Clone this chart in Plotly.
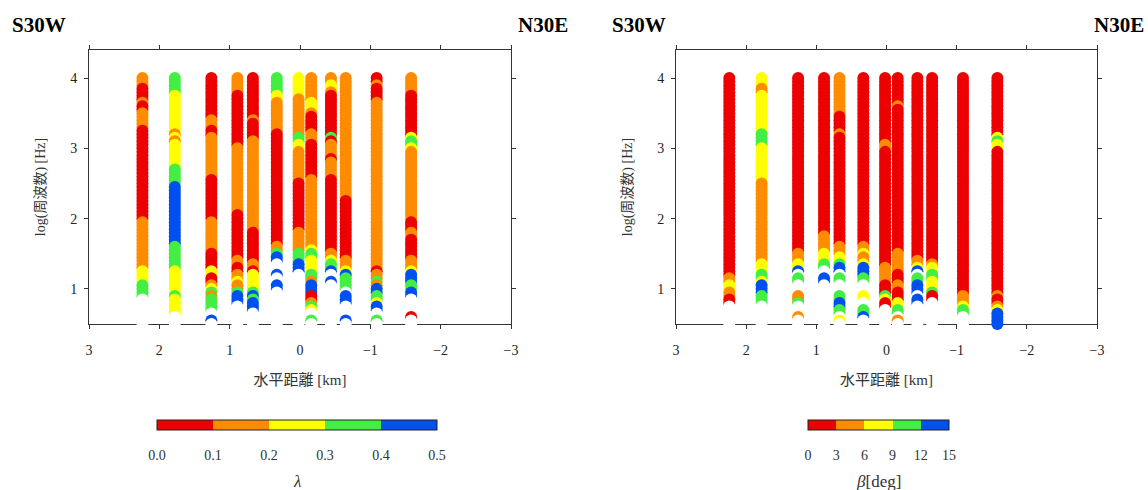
import plotly.graph_objects as go

# ---------------- data ----------------
DIST_KM = [2.24, 1.78, 1.26, 0.89, 0.67, 0.33, 0.02, -0.16, -0.44, -0.65, -1.09, -1.58]

LOG_FREQ = [4.00, 3.95, 3.90, 3.85, 3.80, 3.75, 3.70, 3.65, 3.60, 3.55,
            3.50, 3.45, 3.40, 3.35, 3.30, 3.25, 3.20, 3.15, 3.10, 3.05,
            3.00, 2.95, 2.90, 2.85, 2.80, 2.75, 2.70, 2.65, 2.60, 2.55,
            2.50, 2.45, 2.40, 2.35, 2.30, 2.25, 2.20, 2.15, 2.10, 2.05,
            2.00, 1.95, 1.90, 1.85, 1.80, 1.75, 1.70, 1.65, 1.60, 1.55,
            1.50, 1.45, 1.40, 1.35, 1.30, 1.25, 1.20, 1.15, 1.10, 1.05,
            1.00, 0.95, 0.90, 0.85, 0.80, 0.75, 0.70, 0.65, 0.60, 0.55, 0.50]

# class codes: R,O,Y,G,B = 1st..5th colour class, W = no value (drawn white)
# each station: list of (class, lower log-frequency bound of the run), from top to bottom
LAMBDA_RUNS = [
    [("O", 3.95), ("R", 3.86), ("O", 3.82), ("R", 3.72), ("O", 3.68), ("R", 3.57), ("O", 3.33),
     ("R", 2.06), ("O", 1.36), ("Y", 1.13), ("G", 0.93), ("W", 0)],
    [("G", 3.86), ("Y", 3.31), ("O", 3.25), ("Y", 3.20), ("O", 3.14), ("Y", 2.78), ("G", 2.55),
     ("B", 1.68), ("G", 1.35), ("Y", 0.99), ("G", 0.92), ("Y", 0.68), ("W", 0)],
    [("R", 3.48), ("O", 3.34), ("R", 3.24), ("O", 2.65), ("R", 2.06), ("O", 1.61), ("R", 1.35),
     ("Y", 1.23), ("R", 1.13), ("O", 1.08), ("Y", 1.04), ("G", 0.98), ("O", 0.93), ("G", 0.72),
     ("W", 0.66), ("B", 0.61), ("W", 0)],
    [("O", 3.84), ("R", 3.10), ("O", 2.13), ("R", 1.51), ("O", 1.37), ("R", 1.27), ("O", 1.20),
     ("Y", 1.13), ("O", 1.06), ("G", 0.99), ("B", 0.82), ("W", 0)],
    [("R", 3.51), ("O", 3.44), ("R", 3.18), ("O", 1.89), ("R", 1.42), ("O", 1.35), ("R", 1.27),
     ("Y", 1.06), ("G", 0.99), ("B", 0.95), ("G", 0.90), ("B", 0.73), ("W", 0)],
    [("G", 3.83), ("Y", 3.72), ("O", 3.31), ("R", 1.68), ("O", 1.61), ("G", 1.54), ("B", 1.42),
     ("W", 1.30), ("B", 1.22), ("W", 1.13), ("B", 1.05), ("W", 0)],
    [("Y", 3.79), ("O", 3.22), ("G", 3.15), ("Y", 3.06), ("O", 2.58), ("R", 1.91), ("O", 1.61),
     ("G", 1.42), ("B", 1.28), ("W", 0)],
    [("O", 3.72), ("Y", 3.60), ("O", 3.55), ("R", 3.27), ("O", 3.12), ("R", 2.65), ("O", 1.64),
     ("Y", 1.58), ("G", 1.51), ("Y", 1.27), ("G", 1.20), ("O", 1.13), ("B", 0.97), ("R", 0.87),
     ("O", 0.83), ("G", 0.79), ("Y", 0.74), ("W", 0.66), ("G", 0.61), ("W", 0)],
    [("O", 3.97), ("Y", 3.90), ("O", 3.83), ("R", 3.22), ("G", 3.17), ("R", 3.12), ("O", 2.96),
     ("R", 2.89), ("O", 2.65), ("R", 1.61), ("O", 1.51), ("Y", 1.42), ("G", 1.35), ("B", 1.28),
     ("W", 1.21), ("B", 1.12), ("W", 0)],
    [("O", 2.36), ("R", 1.51), ("O", 1.35), ("Y", 1.28), ("B", 1.22), ("G", 1.05), ("W", 1.01),
     ("B", 0.84), ("W", 0.66), ("B", 0.61), ("W", 0)],
    [("R", 3.97), ("O", 3.93), ("R", 3.72), ("O", 1.35), ("R", 1.28), ("O", 1.21), ("G", 1.13),
     ("O", 1.08), ("B", 0.97), ("G", 0.90), ("Y", 0.85), ("B", 0.74), ("W", 0.66), ("G", 0.61),
     ("W", 0)],
    [("O", 3.83), ("R", 3.24), ("Y", 3.19), ("G", 3.10), ("Y", 3.03), ("O", 2.06), ("R", 1.90),
     ("O", 1.80), ("R", 1.51), ("O", 1.35), ("Y", 1.28), ("B", 1.13), ("G", 1.06), ("B", 0.92),
     ("W", 0.71), ("R", 0.64), ("W", 0)],
]

BETA_RUNS = [
    [("R", 1.23), ("O", 1.13), ("Y", 1.06), ("O", 0.92), ("R", 0.82), ("W", 0)],
    [("Y", 3.93), ("O", 3.86), ("Y", 3.31), ("G", 3.10), ("Y", 2.58), ("O", 1.44), ("Y", 1.28),
     ("G", 1.21), ("Y", 1.13), ("B", 0.97), ("G", 0.82), ("W", 0)],
    [("R", 1.60), ("O", 1.42), ("Y", 1.35), ("B", 1.28), ("W", 1.24), ("G", 1.15), ("W", 1.00),
     ("O", 0.90), ("G", 0.83), ("W", 0.71), ("O", 0.63), ("W", 0)],
    [("R", 1.83), ("O", 1.61), ("Y", 1.46), ("G", 1.35), ("W", 1.24), ("B", 1.15), ("W", 0)],
    [("O", 3.55), ("R", 3.31), ("O", 3.24), ("R", 1.69), ("O", 1.55), ("Y", 1.44), ("G", 1.37),
     ("B", 1.28), ("W", 1.24), ("G", 1.15), ("W", 0.99), ("G", 0.87), ("B", 0.77), ("G", 0.71),
     ("W", 0.66), ("Y", 0.61), ("W", 0)],
    [("R", 1.68), ("O", 1.61), ("Y", 1.54), ("O", 1.44), ("Y", 1.37), ("B", 1.23), ("G", 1.15),
     ("W", 1.00), ("Y", 0.87), ("W", 0.78), ("G", 0.70), ("B", 0.62), ("W", 0)],
    [("R", 3.12), ("O", 3.03), ("R", 1.37), ("O", 1.13), ("R", 1.00), ("G", 0.94), ("Y", 0.88),
     ("R", 0.77), ("W", 0)],
    [("R", 3.69), ("O", 3.62), ("R", 1.60), ("O", 1.30), ("R", 1.13), ("O", 1.06), ("Y", 1.03),
     ("R", 0.87), ("Y", 0.80), ("G", 0.70), ("W", 0.66), ("O", 0.61), ("W", 0)],
    [("R", 1.51), ("O", 1.40), ("Y", 1.35), ("B", 1.28), ("W", 1.24), ("G", 1.13), ("B", 0.99),
     ("W", 0.93), ("B", 0.83), ("W", 0)],
    [("R", 1.44), ("O", 1.37), ("Y", 1.30), ("G", 1.21), ("Y", 1.02), ("G", 0.97), ("R", 0.90),
     ("W", 0)],
    [("R", 0.99), ("O", 0.85), ("Y", 0.78), ("G", 0.69), ("W", 0)],
    [("R", 3.24), ("Y", 3.20), ("G", 3.12), ("Y", 3.03), ("R", 0.99), ("O", 0.94), ("R", 0.86),
     ("O", 0.80), ("Y", 0.74), ("B", 0)],
]

CLASS_CODES = ["R", "O", "Y", "G", "B"]
LAMBDA_TICKS = [0.0, 0.1, 0.2, 0.3, 0.4, 0.5]
BETA_TICKS = [0, 3, 6, 9, 12, 15]

# ---------------- styling ----------------
CLASS_COLORS = ["#EC0000", "#FF8C00", "#FFFF00", "#44EE44", "#0050F0"]
NODATA_COLOR = "#FFFFFF"
COLOR_OF = dict(zip(CLASS_CODES, CLASS_COLORS))
COLOR_OF["W"] = NODATA_COLOR
SERIF = "Liberation Serif, Noto Sans CJK JP, serif"
PROBE = 0.0625   # visible band of an overlapped dot lies just above its centre


def run_class(runs, logf):
    p = logf + PROBE
    for code, low in runs:
        if p > low:
            return code
    return runs[-1][0]


def discrete_scale(colors):
    n = len(colors)
    sc = []
    for i, c in enumerate(colors):
        sc.append([i / n, c])
        sc.append([(i + 1) / n, c])
    return sc


def build_points(runs_list, ticks):
    xs, ys, cols, vals = [], [], [], []
    step = ticks[1] - ticks[0]
    for d, runs in zip(DIST_KM, runs_list):
        for lf in LOG_FREQ:
            code = run_class(runs, lf)
            xs.append(d)
            ys.append(lf)
            cols.append(COLOR_OF[code])
            vals.append(ticks[0] + step * (CLASS_CODES.index(code) + 0.5) if code != "W" else None)
    return xs, ys, cols, vals


fig = go.Figure()

W, H = 1148, 490
panels = [
    dict(runs=LAMBDA_RUNS, ticks=LAMBDA_TICKS, xdom=(89 / W, 511 / W), xa="x", ya="y",
         cb_x=297 / W, cb_len=280, title="<i>λ</i>", fmt=".1f"),
    dict(runs=BETA_RUNS, ticks=BETA_TICKS, xdom=(676 / W, 1097 / W), xa="x2", ya="y2",
         cb_x=878.5 / W, cb_len=141, title="<i>β</i>[deg]", fmt="d"),
]
ydom = (1 - 324 / H, 1 - 50 / H)

for i, p in enumerate(panels):
    xs, ys, cols, vals = build_points(p["runs"], p["ticks"])
    fig.add_trace(go.Scatter(
        x=xs, y=ys, mode="markers", xaxis=p["xa"], yaxis=p["ya"],
        marker=dict(size=12, color=cols, line=dict(width=0)),
        customdata=vals, hovertemplate="%{x} km, %{y}: %{customdata}<extra></extra>",
        cliponaxis=False, showlegend=False))
    # colour bar (discrete classes)
    fig.add_trace(go.Scatter(
        x=[None], y=[None], mode="markers", xaxis=p["xa"], yaxis=p["ya"], showlegend=False,
        hoverinfo="skip",
        marker=dict(color=[p["ticks"][0]], cmin=p["ticks"][0], cmax=p["ticks"][-1],
                    colorscale=discrete_scale(CLASS_COLORS), showscale=True,
                    colorbar=dict(orientation="h", x=p["cb_x"], xanchor="center",
                                  y=1 - 420 / H, yanchor="top", ypad=0, xpad=0,
                                  len=p["cb_len"], lenmode="pixels", thickness=10,
                                  outlinewidth=1, outlinecolor="#222",
                                  tickvals=p["ticks"], tickformat=p["fmt"],
                                  ticks="outside", ticklen=13, tickcolor="rgba(0,0,0,0)",
                                  tickfont=dict(family=SERIF, size=14, color="#333")))))
    fig.add_annotation(text=p["title"], x=p["cb_x"], y=1 - 481 / H, xref="paper", yref="paper",
                       xanchor="center", yanchor="middle", showarrow=False,
                       font=dict(family=SERIF, size=17, color="#333"))

axis_common = dict(showgrid=False, zeroline=False, showline=True, linecolor="#333", linewidth=1,
                   mirror="ticks", ticks="outside", ticklen=4, tickcolor="#333",
                   tickfont=dict(family=SERIF, size=14, color="#222"), layer="below traces")

for i, p in enumerate(panels):
    sfx = "" if i == 0 else "2"
    fig.update_layout(**{
        "xaxis" + sfx: dict(axis_common, domain=p["xdom"], range=[3, -3], dtick=1,
                            anchor="y" + sfx, ticklabelstandoff=9,
                            title=dict(text="水平距離 [km]", standoff=17,
                                       font=dict(family=SERIF, size=15, color="#333"))),
        "yaxis" + sfx: dict(axis_common, domain=ydom, range=[0.5, 4.4], tickvals=[1, 2, 3, 4],
                            anchor="x" + sfx, ticklabelstandoff=4,
                            title=dict(text="log(周波数) [Hz]", standoff=21,
                                       font=dict(family=SERIF, size=14, color="#333"))),
    })

labels = [("S30W", 10 / W, "left"), ("N30E", 570 / W, "right"),
          ("S30W", 610 / W, "left"), ("N30E", 1146 / W, "right")]
for txt, xp, anc in labels:
    fig.add_annotation(text=f"<b>{txt}</b>", x=xp, y=1 - 25 / H, xref="paper", yref="paper",
                       xanchor=anc, yanchor="middle", showarrow=False,
                       font=dict(family=SERIF, size=21, color="#000"))

fig.update_layout(width=W, height=H, margin=dict(l=0, r=0, t=0, b=0, autoexpand=False),
                  paper_bgcolor="white", plot_bgcolor="white")

fig.write_html("out.html", config={"displayModeBar": False},
               post_script="document.body.style.margin='0';document.body.style.overflow='hidden';")
